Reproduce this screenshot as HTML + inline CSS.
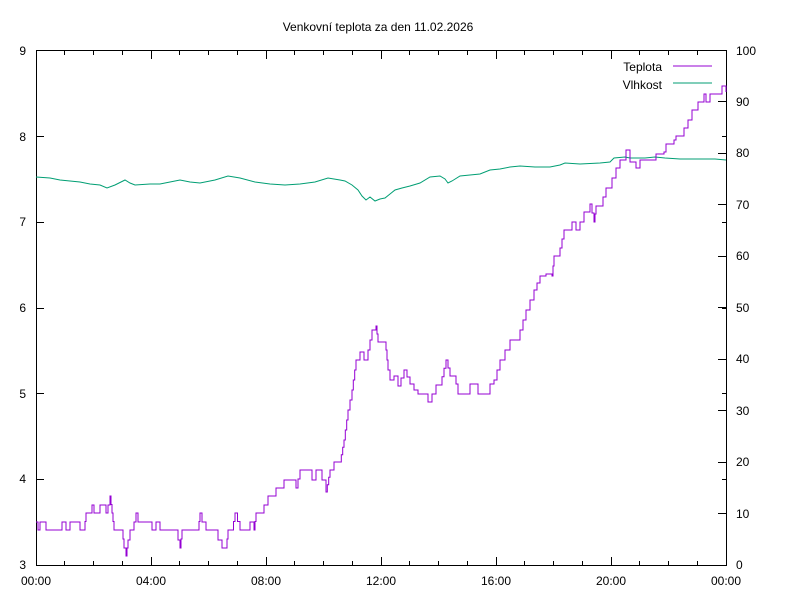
<!DOCTYPE html>
<html><head><meta charset="utf-8"><style>
html,body{margin:0;padding:0;background:#fff}
svg{display:block}
text{font-family:"Liberation Sans",sans-serif;font-size:12px;fill:#000}
</style></head><body>
<svg width="800" height="600" viewBox="0 0 800 600">
<rect width="800" height="600" fill="#fff"/>
<text x="378" y="31" text-anchor="middle">Venkovní teplota za den 11.02.2026</text>
<g stroke="#000" stroke-width="1" fill="none">
<rect x="36.5" y="50.5" width="690" height="515"/>
<path d="M36 479.5h8M36 393.5h8M36 308.5h8M36 222.5h8M36 136.5h8"/>
<path d="M726 513.5h-8M726 462.5h-8M726 410.5h-8M726 359.5h-8M726 307.5h-8M726 256.5h-8M726 204.5h-8M726 153.5h-8M726 101.5h-8"/>
<path d="M726 479.5h-4M726 393.5h-4M726 308.5h-4M726 222.5h-4M726 136.5h-4"/>
<path d="M64.5 565v-4M93.5 565v-4M122.5 565v-4M151.5 565v-8M179.5 565v-4M208.5 565v-4M237.5 565v-4M266.5 565v-8M294.5 565v-4M323.5 565v-4M352.5 565v-4M381.5 565v-8M409.5 565v-4M438.5 565v-4M467.5 565v-4M496.5 565v-8M524.5 565v-4M553.5 565v-4M582.5 565v-4M611.5 565v-8M639.5 565v-4M668.5 565v-4M697.5 565v-4"/>
<path d="M64.5 51v4M93.5 51v4M122.5 51v4M151.5 51v8M179.5 51v4M208.5 51v4M237.5 51v4M266.5 51v8M294.5 51v4M323.5 51v4M352.5 51v4M381.5 51v8M409.5 51v4M438.5 51v4M467.5 51v4M496.5 51v8M524.5 51v4M553.5 51v4M582.5 51v4M611.5 51v8M639.5 51v4M668.5 51v4M697.5 51v4"/>
</g>
<g text-anchor="end">
<text x="26" y="569">3</text><text x="26" y="483">4</text><text x="26" y="398">5</text><text x="26" y="312">6</text><text x="26" y="226">7</text><text x="26" y="141">8</text><text x="26" y="55">9</text>
</g>
<g text-anchor="start">
<text x="736" y="569">0</text><text x="736" y="518">10</text><text x="736" y="466">20</text><text x="736" y="415">30</text><text x="736" y="363">40</text><text x="736" y="312">50</text><text x="736" y="260">60</text><text x="736" y="209">70</text><text x="736" y="157">80</text><text x="736" y="106">90</text><text x="736" y="55">100</text>
</g>
<g text-anchor="middle">
<text x="36" y="585">00:00</text><text x="151" y="585">04:00</text><text x="266" y="585">08:00</text><text x="381" y="585">12:00</text><text x="496" y="585">16:00</text><text x="611" y="585">20:00</text><text x="726" y="585">00:00</text>
</g>
<text x="662" y="71" text-anchor="end">Teplota</text>
<text x="662" y="89" text-anchor="end">Vlhkost</text>
<path d="M673 66h39" stroke="#9400d3" stroke-width="1"/>
<path d="M673 83h39" stroke="#009e73" stroke-width="1"/>
<polyline fill="none" stroke="#009e73" stroke-width="1" points="36,177 50,178 60,180 70,181 80,182 90,184 100,185 107,188 115,185 125,180 130,183 135,185 150,184 160,184 170,182 180,180 190,182 200,183 215,180 228,176 240,178 255,182 270,184 285,185 300,184 315,182 328,178 340,180 345,181 352,185 358,190 362,196 366,200 370,197 375,201 380,199 385,198 390,194 395,190 402,188 410,186 420,183 430,177 440,176 445,179 448,183 452,181 460,176 470,175 480,174 490,170 500,169 510,167 520,166 535,167 550,167 560,165 565,163 580,164 600,163 610,162 614,158 625,157 630,158 645,158 655,157 665,158 680,159 700,159 715,159 726,160"/>
<path id="tp" fill="none" stroke="#9400d3" stroke-width="1" d=""/>
</svg>
<script>
var p=[36,522,38,530,40,522,44,522,46,530,60,530,62,522,66,530,70,522,80,530,84,530,86,513,90,513,92,505,94,513,98,513,100,505,104,505,106,513,108,505,110,496,112,513,114,530,122,530,124,548,126,556,128,540,130,530,134,522,136,513,138,522,150,522,152,530,156,522,160,530,176,530,178,540,180,548,182,530,198,530,200,513,202,522,206,530,216,530,218,540,222,548,226,548,228,530,232,530,235,513,240,530,250,522,254,530,256,513,262,513,264,505,268,496,276,488,282,488,284,480,290,480,296,488,300,470,306,470,312,480,316,470,322,480,326,492,330,470,334,462,340,462,344,440,348,410,352,390,356,360,360,352,364,360,368,350,372,330,376,326,378,342,382,342,386,350,388,370,390,380,394,376,398,386,404,370,410,384,414,390,418,394,424,394,428,402,432,394,436,385,440,385,446,360,450,376,456,384,458,394,470,384,476,384,478,394,488,394,490,384,494,380,500,360,505,350,510,340,520,330,526,310,534,290,540,276,546,274,552,276,554,256,560,248,564,230,572,222,576,230,580,222,584,212,590,204,594,222,596,206,600,206,606,188,612,178,616,168,620,160,626,150,630,162,634,162,636,168,640,160,652,160,656,154,664,152,666,144,674,140,676,136,684,128,688,120,692,110,698,102,704,94,706,102,710,94,720,94,722,86,724,86,726,92];
var d="M"+p[0]+" "+p[1];
for(var i=2;i<p.length;i+=2){
 var x0=p[i-2],y0=p[i-1],x=p[i],y=p[i+1];
 var dy=y-y0,n=Math.max(1,Math.round(Math.abs(dy)/8.6)),dx=(x-x0)/n;
 for(var k=1;k<=n;k++){d+=" H"+(x0+dx*k).toFixed(1)+" V"+(y0+dy*k/n).toFixed(1);}
}
document.getElementById("tp").setAttribute("d",d);
</script>
</body></html>
